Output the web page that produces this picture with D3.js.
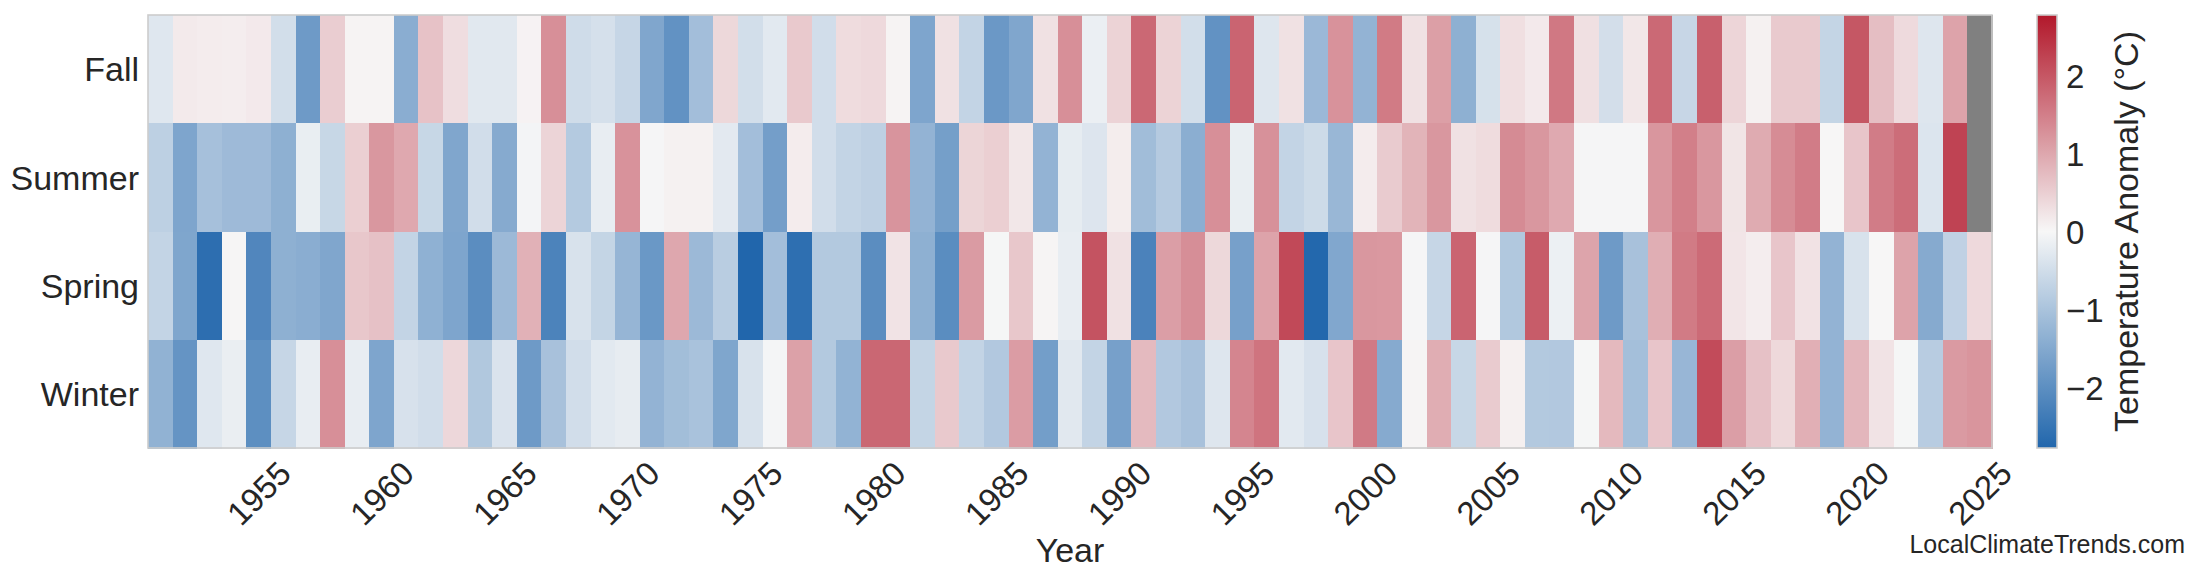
<!DOCTYPE html>
<html>
<head>
<meta charset="utf-8">
<script src="https://cdn.jsdelivr.net/npm/d3@7"></script>
<style>
  html, body { margin: 0; padding: 0; background: #ffffff; }
  svg { display: block; }
  text { font-family: "Liberation Sans", Arial, sans-serif; fill: #262626; }
</style>
</head>
<body>
<svg id="chart" width="2200" height="585"></svg>
<script>
// ---- data ----
const years = d3.range(1951, 2026);
const seasons = ["Fall", "Summer", "Spring", "Winter"];
const xTickYears = [1955, 1960, 1965, 1970, 1975, 1980, 1985, 1990, 1995, 2000, 2005, 2010, 2015, 2020, 2025];
const colorbarTicks = [-2, -1, 0, 1, 2];

const fall = [-0.31, 0.16, 0.14, 0.12, 0.17, -0.48, -1.78, 0.52, 0.05, 0.05,
  -1.42, 0.66, 0.32, -0.28, -0.28, 0.06, 1.3, -0.52, -0.44, -0.64,
  -1.55, -1.94, -1.09, 0.39, -0.48, -0.27, 0.57, -0.5, 0.34, 0.37,
  0.05, -1.57, 0.27, -0.68, -1.82, -1.55, 0.27, 1.3, -0.15, 0.45,
  1.78, 0.45, -0.48, -1.93, 1.83, -0.32, 0.27, -1.2, 1.26, -1.3,
  1.55, 0.27, 1.1, -1.36, -0.43, 0.3, 0.17, 1.58, 0.29, -0.47,
  0.2, 1.77, -0.63, 1.88, 0.42, 0.08, 0.56, 0.56, -0.66, 2.0,
  0.71, 0.36, -0.32, 1.05, null];
const summer = [-0.75, -1.57, -1.05, -1.16, -1.16, -1.36, -0.18, -0.62, 0.5, 1.2,
  0.98, -0.62, -1.55, -0.5, -1.47, -0.05, 0.44, -0.87, -0.2, 1.26,
  -0.03, 0.08, 0.08, -0.26, -1.09, -1.7, 0.14, -0.5, -0.68, -0.74,
  1.23, -1.3, -1.69, 0.43, 0.5, 0.2, -1.3, -0.22, -0.34, 0.13,
  -1.12, -0.86, -1.4, 1.3, -0.18, 1.27, -0.68, -0.54, -1.22, 0.14,
  0.55, 0.84, 1.2, 0.27, 0.34, 1.35, 1.2, 0.97, -0.03, -0.03,
  -0.03, 1.21, 1.5, 1.2, 0.23, 0.95, 1.34, 1.53, 0.01, 0.62,
  1.53, 1.72, -0.35, 2.24, null];
const spring = [-0.68, -1.56, -2.62, 0.03, -2.16, -1.36, -1.42, -1.55, 0.6, 0.67,
  -0.68, -1.35, -1.57, -2.03, -1.18, 0.87, -2.22, -0.4, -0.66, -1.26,
  -1.83, 1.0, -1.18, -0.8, -2.78, -1.09, -2.61, -0.88, -0.88, -2.03,
  0.25, -1.36, -2.04, 1.15, -0.02, 0.6, 0.04, -0.19, 2.04, 0.27,
  -2.24, 1.11, 1.31, 0.39, -1.66, 1.05, 2.17, -2.75, -1.53, 1.2,
  1.18, -0.03, -0.64, 1.83, -0.03, -0.91, 1.93, -0.14, 1.03, -1.78,
  -1.03, 0.91, 1.55, 1.75, 0.22, 0.12, 0.62, 0.26, -1.3, -0.4,
  0.01, 1.05, -1.47, -0.72, 0.37];
const winter = [-1.32, -1.9, -0.31, -0.17, -2.0, -0.64, -0.2, 1.3, -0.2, -1.57,
  -0.42, -0.49, 0.4, -0.91, -0.38, -1.78, -1.03, -0.49, -0.27, -0.21,
  -1.3, -1.1, -1.01, -1.56, -0.4, -0.04, 1.07, -0.88, -1.31, 1.8,
  1.8, -0.66, 0.57, -0.68, -0.9, 1.13, -1.71, -0.29, -0.68, -1.66,
  0.76, -0.9, -1.03, -0.33, 1.42, 1.63, -0.27, -0.42, 0.62, 1.56,
  -1.47, 0.04, 0.92, -0.62, 0.55, 0.09, -0.88, -0.9, -0.02, 0.77,
  -1.08, 0.62, -1.24, 2.14, 1.11, 0.67, 0.38, 0.9, -1.3, 0.81,
  0.25, -0.02, -0.82, 1.16, 1.22];

const seriesBySeason = { Fall: fall, Summer: summer, Spring: spring, Winter: winter };

// ---- layout ----
const plot = { left: 148, right: 1992, top: 15, bottom: 448 };
const cbar = { x: 2037, w: 20 };
const textColor = "#262626";
const vmax = 2.78;
const fontFam = '"Liberation Sans", Arial, sans-serif';

const svg = d3.select("#chart");

const x = d3.scaleBand().domain(years).range([plot.left, plot.right]).padding(0);
const y = d3.scaleBand().domain(seasons).range([plot.top, plot.bottom]).padding(0);
const color = d3.scaleLinear()
  .domain([-vmax, 0, vmax])
  .range(["#2166ac", "#f7f7f7", "#b2182b"])
  .interpolate(d3.interpolateRgb)
  .clamp(true);

const cells = [];
seasons.forEach(s => {
  seriesBySeason[s].forEach((v, i) => cells.push({ season: s, year: years[i], value: v }));
});

svg.append("g")
  .selectAll("rect")
  .data(cells)
  .join("rect")
  .attr("x", d => x(d.year))
  .attr("y", d => y(d.season))
  .attr("width", x.bandwidth() + 0.5)
  .attr("height", y.bandwidth() + 0.5)
  .attr("fill", d => d.value == null ? "#808080" : color(d.value))
  .attr("shape-rendering", "crispEdges");

// plot frame
svg.append("rect")
  .attr("x", plot.left).attr("y", plot.top)
  .attr("width", plot.right - plot.left).attr("height", plot.bottom - plot.top)
  .attr("fill", "none").attr("stroke", "#cccccc").attr("stroke-width", 1.6);

// x axis
const xAxis = svg.append("g")
  .attr("transform", `translate(0,${plot.bottom})`)
  .call(d3.axisBottom(x).tickValues(xTickYears).tickSize(0).tickPadding(0));
xAxis.select(".domain").remove();
xAxis.selectAll("text")
  .attr("y", 0)
  .attr("dy", "0.36em")
  .attr("text-anchor", "middle")
  .attr("transform", "translate(0,45) rotate(-45)")
  .style("font-size", "33px")
  .style("font-family", fontFam)
  .attr("fill", textColor);

// y axis
const yAxis = svg.append("g")
  .attr("transform", `translate(${plot.left},0)`)
  .call(d3.axisLeft(y).tickSize(0).tickPadding(9));
yAxis.select(".domain").remove();
yAxis.selectAll("text")
  .attr("dy", "0.36em")
  .style("font-size", "34px")
  .style("font-family", fontFam)
  .attr("fill", textColor);

// axis title
svg.append("text")
  .attr("x", (plot.left + plot.right) / 2)
  .attr("y", 562)
  .attr("text-anchor", "middle")
  .style("font-size", "34px")
  .text("Year");

// colorbar
const defs = svg.append("defs");
const grad = defs.append("linearGradient")
  .attr("id", "cbgrad")
  .attr("x1", "0%").attr("y1", "100%").attr("x2", "0%").attr("y2", "0%");
d3.range(0, 1.0001, 0.05).forEach(t => {
  grad.append("stop")
    .attr("offset", (t * 100) + "%")
    .attr("stop-color", color(-vmax + 2 * vmax * t));
});
svg.append("rect")
  .attr("x", cbar.x).attr("y", plot.top)
  .attr("width", cbar.w).attr("height", plot.bottom - plot.top)
  .attr("fill", "url(#cbgrad)")
  .attr("stroke", "#cccccc").attr("stroke-width", 1.6);

const cScale = d3.scaleLinear().domain([-vmax, vmax]).range([plot.bottom, plot.top]);
const cAxis = svg.append("g")
  .attr("transform", `translate(${cbar.x + cbar.w},0)`)
  .call(d3.axisRight(cScale).tickValues(colorbarTicks).tickFormat(d3.format("d")).tickSize(0).tickPadding(9));
cAxis.select(".domain").remove();
cAxis.selectAll("text")
  .attr("dy", "0.36em")
  .style("font-size", "33px")
  .style("font-family", fontFam)
  .attr("fill", textColor);

svg.append("text")
  .attr("transform", `translate(2138,${(plot.top + plot.bottom) / 2}) rotate(-90)`)
  .attr("text-anchor", "middle")
  .style("font-size", "34px")
  .text("Temperature Anomaly (°C)");

// watermark
svg.append("text")
  .attr("x", 2185)
  .attr("y", 553)
  .attr("text-anchor", "end")
  .style("font-size", "25px")
  .text("LocalClimateTrends.com");
</script>
</body>
</html>
